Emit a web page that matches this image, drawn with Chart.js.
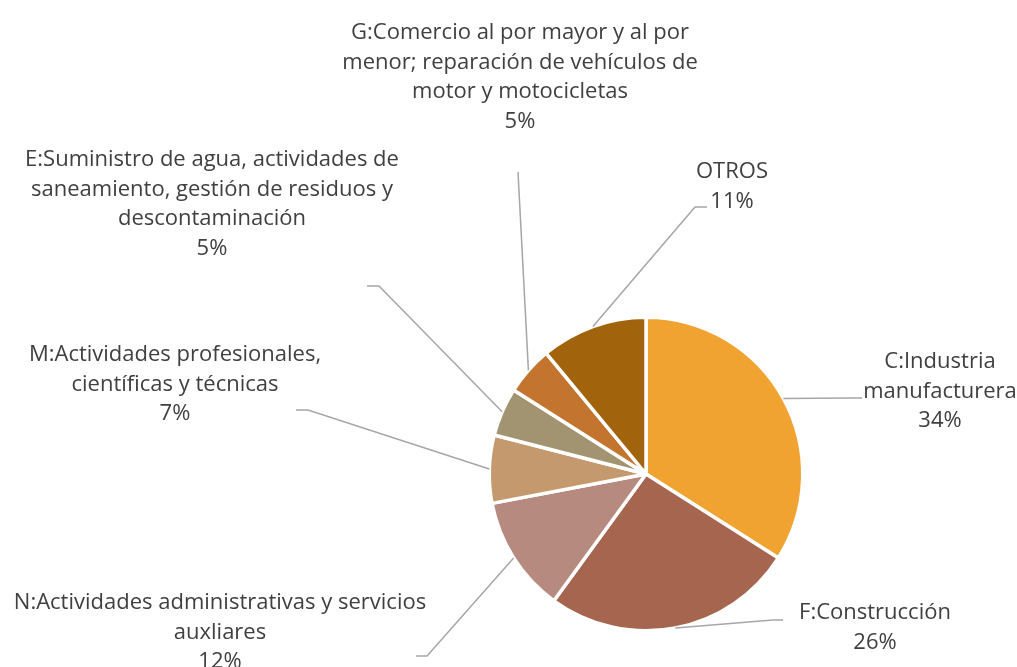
<!DOCTYPE html>
<html>
<head>
<meta charset="utf-8">
<script src="https://cdn.jsdelivr.net/npm/chart.js@4"></script>
<style>
  html, body { margin: 0; padding: 0; background: #fff; }
  #wrap { width: 1017px; height: 667px; position: relative; }
</style>
</head>
<body>
<div id="wrap"><canvas id="pie"></canvas></div>
<script>
// Data
const categories = [
  ["C:Industria", "manufacturera"],
  ["F:Construcción"],
  ["N:Actividades administrativas y servicios", "auxliares"],
  ["M:Actividades profesionales,", "científicas y técnicas"],
  ["E:Suministro de agua, actividades de", "saneamiento, gestión de residuos y", "descontaminación"],
  ["G:Comercio al por mayor y al por", "menor; reparación de vehículos de", "motor y motocicletas"],
  ["OTROS"]
];
const values = [34, 26, 12, 7, 5, 5, 11];
const colors = ["#F0A331", "#A6654E", "#B68A7E", "#C4996E", "#A39471", "#C3742E", "#A2630D"];

// Label placement: elbow point, end point of leader, text centre x, first line y
const labelLayout = [
  { elbow: [852, 398], end: [862, 398], cx: 940, y: 362 },
  { elbow: [773, 620], end: [783, 620], cx: 875, y: 613 },
  { elbow: [427, 656], end: [416, 656], cx: 220, y: 603 },
  { elbow: [308, 410], end: [296, 410], cx: 175, y: 355 },
  { elbow: [379, 286], end: [367, 286], cx: 212, y: 160 },
  { elbow: [518, 172], end: null, cx: 520, y: 33 },
  { elbow: [695, 207], end: [707, 207], cx: 732, y: 172 }
];

const lineHeight = 29.5;

const outsideLabels = {
  id: "outsideLabels",
  afterDatasetsDraw(chart) {
    const ctx = chart.ctx;
    const arcs = chart.getDatasetMeta(0).data;
    ctx.save();
    ctx.strokeStyle = "#A6A6A6";
    ctx.lineWidth = 1.5;
    arcs.forEach((arc, i) => {
      const lay = labelLayout[i];
      const mid = (arc.startAngle + arc.endAngle) / 2;
      const sx = arc.x + arc.outerRadius * Math.cos(mid);
      const sy = arc.y + arc.outerRadius * Math.sin(mid);
      ctx.beginPath();
      ctx.moveTo(sx, sy);
      ctx.lineTo(lay.elbow[0], lay.elbow[1]);
      if (lay.end) ctx.lineTo(lay.end[0], lay.end[1]);
      ctx.stroke();
    });
    ctx.fillStyle = "#404040";
    ctx.font = "22px 'Open Sans'";
    ctx.textAlign = "center";
    ctx.textBaseline = "middle";
    arcs.forEach((arc, i) => {
      const lay = labelLayout[i];
      const lines = categories[i].concat([values[i] + "%"]);
      lines.forEach((t, j) => {
        ctx.fillText(t, lay.cx, lay.y + j * lineHeight);
      });
    });
    ctx.restore();
  }
};

new Chart(document.getElementById("pie"), {
  type: "pie",
  data: {
    labels: categories.map(c => c.join(" ")),
    datasets: [{
      data: values,
      backgroundColor: colors,
      borderColor: "#ffffff",
      borderWidth: 3.5,
      hoverOffset: 0
    }]
  },
  options: {
    responsive: true,
    maintainAspectRatio: false,
    animation: false,
    layout: { padding: { left: 487.5, right: 212.5, top: 315.5, bottom: 34.5 } },
    plugins: {
      legend: { display: false },
      tooltip: { enabled: false }
    }
  },
  plugins: [outsideLabels]
});
</script>
</body>
</html>
